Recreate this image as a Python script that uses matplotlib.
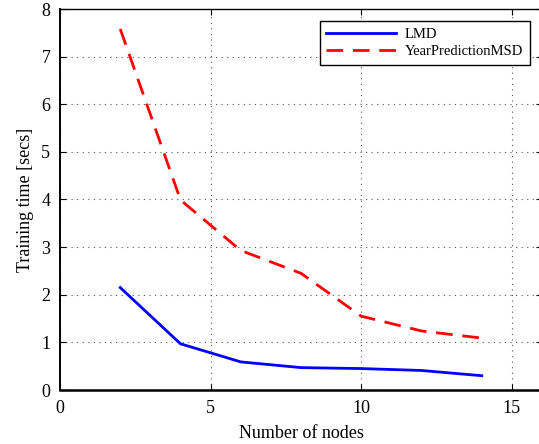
import matplotlib.pyplot as plt

nodes = [2, 4, 6, 8, 10, 12, 14]
lmd = [2.15, 0.97, 0.59, 0.47, 0.45, 0.41, 0.30]
year_msd = [7.58, 3.99, 2.93, 2.45, 1.55, 1.24, 1.09]

plt.rcParams['font.family'] = ['Liberation Serif', 'DejaVu Serif']

fig = plt.figure(figsize=(5.39, 4.44), dpi=100)
ax = fig.add_axes([60 / 539, 1 - 390 / 444, 482 / 539, 381 / 444])

ax.plot(nodes, lmd, color='blue', lw=2, label='LMD')
ax.plot(nodes, year_msd, color='red', lw=2, dashes=(6, 3.5), label='YearPredictionMSD')

ax.set_xlim(0, 16)
ax.set_ylim(0, 8)
ax.set_xticks([0, 5, 10, 15])
ax.set_yticks(range(0, 9))
ax.tick_params(direction='in', top=True, right=True, length=4, labelsize=13, pad=7)
ax.grid(True, color='#555555', linestyle=(0, (1, 4)), lw=0.8)
for s in ax.spines.values():
    s.set_linewidth(1)
ax.spines['bottom'].set_linewidth(1.8)
ax.spines['left'].set_linewidth(1.4)

ax.set_xlabel('Number of nodes', fontsize=13, labelpad=6)
ax.set_ylabel('Training time [secs]', fontsize=13, labelpad=5)

leg = ax.legend(loc='upper right', bbox_to_anchor=(0.975, 0.9685), borderaxespad=0, fontsize=10.5,
                fancybox=False, edgecolor='black', framealpha=1, borderpad=0.45,
                handlelength=4.8, handletextpad=0.6, labelspacing=0.3)
leg.get_frame().set_linewidth(1)

fig.savefig('out.png', dpi=100)
